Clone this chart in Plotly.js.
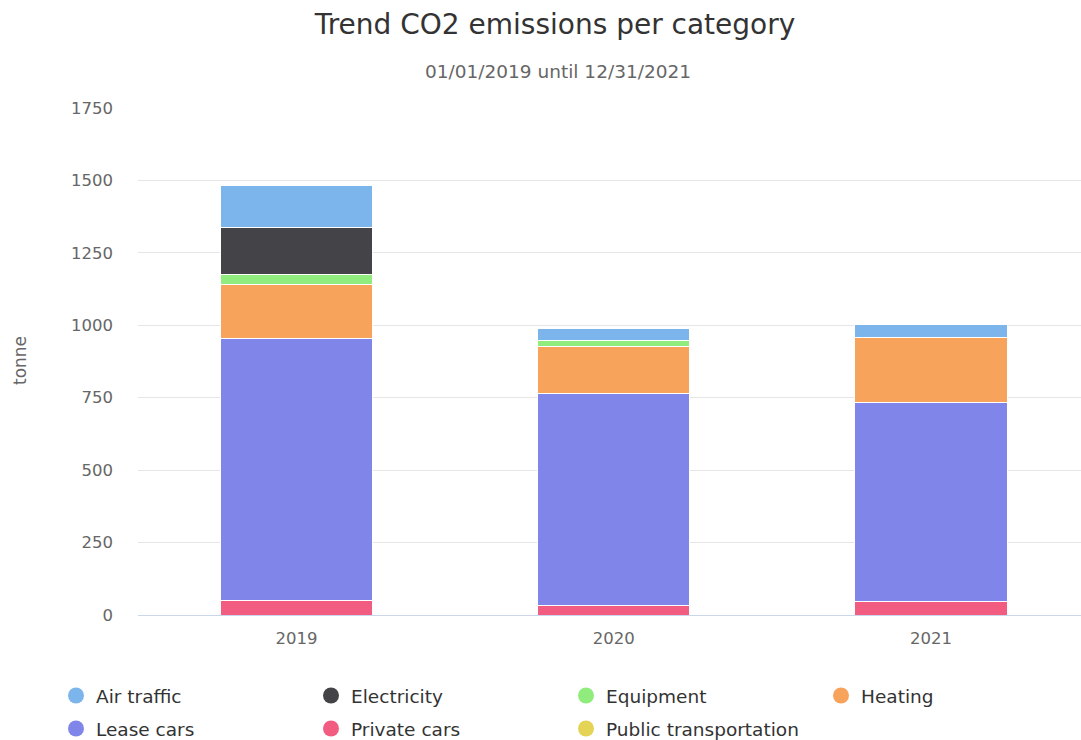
<!DOCTYPE html>
<html>
<head>
<meta charset="utf-8">
<script src="https://cdn.plot.ly/plotly-3.0.1.min.js"></script>
<style>
  html, body { margin: 0; padding: 0; background: #ffffff; }
  #chart { width: 1081px; height: 740px; }
</style>
</head>
<body>
<div id="chart"></div>
<script>
// Years on the x axis
const years = ['2019', '2020', '2021'];

// Emissions per category, tonne
const airTraffic = [144, 40, 46];
const electricity = [162, 0, 0];
const equipment = [33, 22, 0];
const heating = [188, 161, 226];
const leaseCars = [903, 731, 687];
const privateCars = [51, 34, 45];
const publicTransportation = [0, 0, 0];

// Legend order (top to bottom of the stack)
const categories = ['Air traffic', 'Electricity', 'Equipment', 'Heating', 'Lease cars', 'Private cars', 'Public transportation'];
const seriesValues = [airTraffic, electricity, equipment, heating, leaseCars, privateCars, publicTransportation];
const colors = ['#7cb5ec', '#434348', '#90ed7d', '#f7a35c', '#8085e9', '#f15c80', '#e4d354'];

const yTicks = [0, 250, 500, 750, 1000, 1250, 1500, 1750];

// Plot area in pixels
const plotLeft = 138, plotTop = 108, plotBottom = 615, plotWidth = 943;
const plotHeight = plotBottom - plotTop;
const px = function (x) { return (x - plotLeft) / plotWidth; };
const py = function (y) { return (plotBottom - y) / plotHeight; };

const traces = [];

// Bars are stacked from the bottom up, so add them in reverse legend order
for (let i = categories.length - 1; i >= 0; i--) {
  traces.push({
    type: 'bar',
    name: categories[i],
    x: years,
    y: seriesValues[i],
    marker: { color: colors[i], line: { color: '#ffffff', width: 1 } },
    showlegend: false,
    hovertemplate: '%{x}<br>' + categories[i] + ': %{y} tonne<extra></extra>'
  });
}

// Round legend symbols, four per row
categories.forEach(function (name, i) {
  traces.push({
    type: 'scatter',
    mode: 'markers',
    name: name,
    x: [null],
    y: [null],
    legend: i < 4 ? 'legend' : 'legend2',
    marker: { color: colors[i], size: 16, symbol: 'circle' },
    showlegend: true,
    hoverinfo: 'skip'
  });
});

const legendStyle = {
  orientation: 'h',
  xref: 'paper',
  yref: 'paper',
  x: px(56),
  xanchor: 'left',
  yanchor: 'top',
  entrywidth: 210,
  entrywidthmode: 'pixels',
  traceorder: 'normal',
  font: { family: 'DejaVu Sans, sans-serif', size: 18.5, color: '#333333' },
  bgcolor: 'rgba(0,0,0,0)'
};

const layout = {
  width: 1081,
  height: 740,
  paper_bgcolor: '#ffffff',
  plot_bgcolor: '#ffffff',
  font: { family: 'DejaVu Sans, sans-serif', color: '#666666' },
  margin: { l: plotLeft, r: 1081 - plotLeft - plotWidth, t: plotTop, b: 740 - plotBottom, autoexpand: false },
  barmode: 'stack',
  bargap: 0.52,
  title: {
    text: 'Trend CO2 emissions per category',
    font: { family: 'DejaVu Sans, sans-serif', size: 28, color: '#333333' },
    x: 555 / 1081,
    xref: 'container',
    xanchor: 'center',
    y: 1 - 24 / 740,
    yref: 'container',
    yanchor: 'middle'
  },
  xaxis: {
    type: 'category',
    range: [-0.5, 2.473],
    showgrid: false,
    showline: true,
    linecolor: '#ccd6eb',
    linewidth: 1,
    ticks: '',
    ticklabelstandoff: 8,
    tickfont: { size: 16.5, color: '#666666' },
    fixedrange: true
  },
  yaxis: {
    range: [0, 1750],
    tickvals: yTicks,
    ticktext: yTicks.map(String),
    showgrid: true,
    gridcolor: '#e6e6e6',
    gridwidth: 1,
    zeroline: false,
    showline: false,
    ticks: '',
    ticklabelstandoff: 24,
    tickfont: { size: 16.5, color: '#666666' },
    fixedrange: true
  },
  legend: Object.assign({}, legendStyle, { y: py(677) }),
  legend2: Object.assign({}, legendStyle, { y: py(710) }),
  annotations: [
    {
      text: '01/01/2019 until 12/31/2021',
      xref: 'paper',
      yref: 'paper',
      x: px(557.5),
      y: py(71),
      xanchor: 'center',
      yanchor: 'middle',
      showarrow: false,
      font: { family: 'DejaVu Sans, sans-serif', size: 18.5, color: '#666666' }
    },
    {
      text: 'tonne',
      xref: 'paper',
      yref: 'paper',
      x: px(20),
      y: py(361),
      xanchor: 'center',
      yanchor: 'middle',
      textangle: -90,
      showarrow: false,
      font: { family: 'DejaVu Sans, sans-serif', size: 17, color: '#666666' }
    }
  ]
};

Plotly.newPlot('chart', traces, layout, { displayModeBar: false, responsive: false });
</script>
</body>
</html>
